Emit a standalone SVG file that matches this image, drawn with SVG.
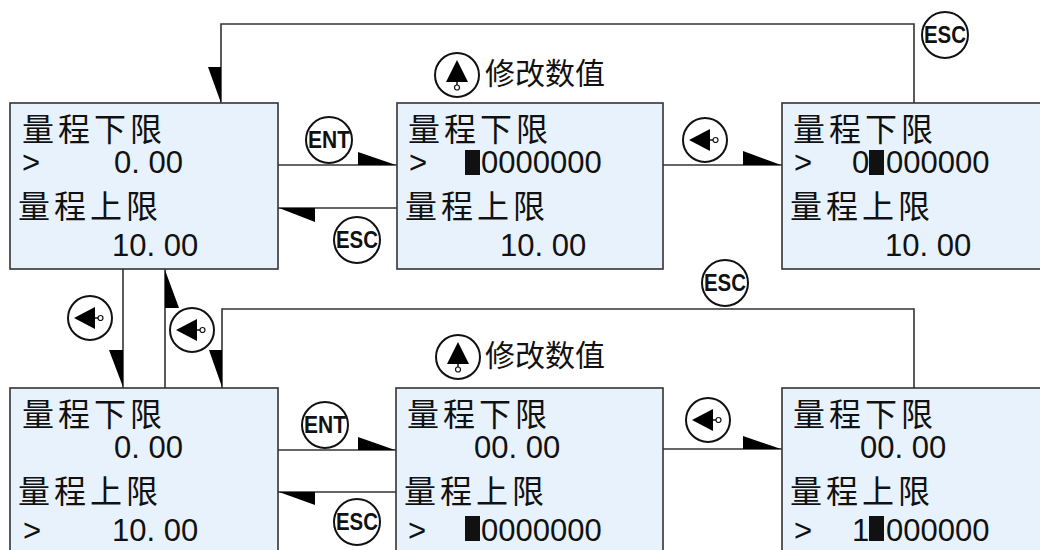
<svg xmlns="http://www.w3.org/2000/svg" xmlns:xlink="http://www.w3.org/1999/xlink" width="1040" height="550" viewBox="0 0 1040 550">
<style>
.box{fill:#e8f2fc;stroke:#333;stroke-width:1.6}
.cn{font-family:"Noto Sans CJK SC","Noto Sans",sans-serif;font-size:32px;letter-spacing:4px;fill:#111}
.lbl{font-family:"Noto Sans CJK SC","Noto Sans",sans-serif;font-size:30px;fill:#111}
.num{font-family:"Liberation Sans",Arial,sans-serif;font-size:31px;fill:#111}
.blk{fill:#111}
.wire{fill:none;stroke:#333;stroke-width:1.6}
.head{fill:#000}
.ring{fill:#fff;stroke:#111;stroke-width:2}
.key{font-family:"Liberation Sans",Arial,sans-serif;font-weight:bold;font-size:23px;fill:#111;text-anchor:middle}
.pin{fill:#fff;stroke:#111;stroke-width:1.2}
</style>
<defs>
<g id="icoLeft">
<circle class="ring" r="22"/>
<polygon points="-16,0 5,-11 5,11" fill="#000"/>
<line x1="5" y1="0" x2="8" y2="0" stroke="#111" stroke-width="1.5"/>
<circle class="pin" cx="10.5" cy="0" r="2.5"/>
</g>
<g id="icoUp">
<circle class="ring" r="22"/>
<polygon points="0,-15 -11,7 11,7" fill="#000"/>
<line x1="0" y1="7" x2="0" y2="10" stroke="#111" stroke-width="1.5"/>
<circle class="pin" cx="0" cy="12.5" r="2.5"/>
</g>
</defs>
<rect width="1040" height="550" fill="#fff"/>

<g id="connectors">
<polyline class="wire" points="914,103 914,24 221,24 221,103"/>
<polygon class="head" points="208,67 221,67 221,103"/>
<line class="wire" x1="278" y1="165" x2="397" y2="165"/>
<polygon class="head" points="358,152 358,165 396,165"/>
<line class="wire" x1="397" y1="208" x2="278" y2="208"/>
<polygon class="head" points="279,208 315,208 315,222"/>
<line class="wire" x1="663" y1="165" x2="782" y2="165"/>
<polygon class="head" points="743,151 743,165 781,165"/>
<line class="wire" x1="123" y1="269" x2="123" y2="388"/>
<polygon class="head" points="109,350 123,350 123,387"/>
<line class="wire" x1="165" y1="388" x2="165" y2="269"/>
<polygon class="head" points="165,270 165,308 179,308"/>
<polyline class="wire" points="914,388 914,309 222,309 222,388"/>
<polygon class="head" points="209,350 222,350 222,387"/>
<line class="wire" x1="278" y1="450" x2="396" y2="450"/>
<polygon class="head" points="358,437 358,450 395,450"/>
<line class="wire" x1="396" y1="492" x2="278" y2="492"/>
<polygon class="head" points="279,492 315,492 315,505"/>
<line class="wire" x1="663" y1="449" x2="782" y2="449"/>
<polygon class="head" points="743,436 743,449 781,449"/>
</g>

<g id="keys">
<g id="key-ent-top"><circle class="ring" cx="329" cy="140" r="23"/><text class="key" x="329" y="148" textLength="42" lengthAdjust="spacingAndGlyphs">ENT</text></g>
<g id="key-esc-top"><circle class="ring" cx="357" cy="240" r="23"/><text class="key" x="357" y="248" textLength="42" lengthAdjust="spacingAndGlyphs">ESC</text></g>
<g id="key-esc-corner"><circle class="ring" cx="945" cy="35" r="23"/><text class="key" x="945" y="43" textLength="42" lengthAdjust="spacingAndGlyphs">ESC</text></g>
<g id="key-esc-mid"><circle class="ring" cx="725" cy="283" r="23"/><text class="key" x="725" y="291" textLength="42" lengthAdjust="spacingAndGlyphs">ESC</text></g>
<g id="key-ent-bot"><circle class="ring" cx="325" cy="425" r="23"/><text class="key" x="325" y="433" textLength="42" lengthAdjust="spacingAndGlyphs">ENT</text></g>
<g id="key-esc-bot"><circle class="ring" cx="357" cy="522" r="23"/><text class="key" x="357" y="530" textLength="42" lengthAdjust="spacingAndGlyphs">ESC</text></g>
<use xlink:href="#icoLeft" href="#icoLeft" transform="translate(705,140)"/>
<use xlink:href="#icoLeft" href="#icoLeft" transform="translate(90,318)"/>
<use xlink:href="#icoLeft" href="#icoLeft" transform="translate(192,330)"/>
<use xlink:href="#icoLeft" href="#icoLeft" transform="translate(708,420)"/>
<g id="label-top"><use xlink:href="#icoUp" href="#icoUp" transform="translate(457,75)"/><text class="lbl" x="485" y="84">修改数值</text></g>
<g id="label-bot"><use xlink:href="#icoUp" href="#icoUp" transform="translate(458,357)"/><text class="lbl" x="485" y="366">修改数值</text></g>
</g>

<g id="box-a">
<rect class="box" x="10" y="103" width="268" height="166"/>
<text class="cn" x="22" y="141">量程下限</text>
<text class="num" x="22" y="173">&gt;</text>
<text class="num" x="114" y="173">0. 00</text>
<text class="cn" x="18" y="218">量程上限</text>
<text class="num" x="112" y="256">10. 00</text>
</g>

<g id="box-b">
<rect class="box" x="397" y="103" width="266" height="166"/>
<text class="cn" x="408" y="141">量程下限</text>
<text class="num" x="409" y="173">&gt;</text>
<rect class="blk" x="465" y="150" width="15" height="25"/>
<text class="num" x="481" y="173">0000000</text>
<text class="cn" x="405" y="218">量程上限</text>
<text class="num" x="500" y="256">10. 00</text>
</g>

<g id="box-c">
<rect class="box" x="782" y="103" width="270" height="166"/>
<text class="cn" x="793" y="141">量程下限</text>
<text class="num" x="794" y="173">&gt;</text>
<text class="num" x="852" y="173">0</text>
<rect class="blk" x="869" y="150" width="15" height="25"/>
<text class="num" x="886" y="173">000000</text>
<text class="cn" x="790" y="218">量程上限</text>
<text class="num" x="885" y="256">10. 00</text>
</g>

<g id="box-d">
<rect class="box" x="10" y="388" width="268" height="170"/>
<text class="cn" x="22" y="426">量程下限</text>
<text class="num" x="114" y="458">0. 00</text>
<text class="cn" x="18" y="503">量程上限</text>
<text class="num" x="23" y="541">&gt;</text>
<text class="num" x="112" y="541">10. 00</text>
</g>

<g id="box-e">
<rect class="box" x="396" y="388" width="267" height="170"/>
<text class="cn" x="407" y="426">量程下限</text>
<text class="num" x="474" y="458">00. 00</text>
<text class="cn" x="404" y="503">量程上限</text>
<text class="num" x="408" y="541">&gt;</text>
<rect class="blk" x="465" y="516" width="15" height="25"/>
<text class="num" x="481" y="541">0000000</text>
</g>

<g id="box-f">
<rect class="box" x="782" y="388" width="270" height="170"/>
<text class="cn" x="793" y="426">量程下限</text>
<text class="num" x="860" y="458">00. 00</text>
<text class="cn" x="790" y="503">量程上限</text>
<text class="num" x="794" y="541">&gt;</text>
<text class="num" x="852" y="541">1</text>
<rect class="blk" x="869" y="516" width="15" height="25"/>
<text class="num" x="886" y="541">000000</text>
</g>
</svg>
